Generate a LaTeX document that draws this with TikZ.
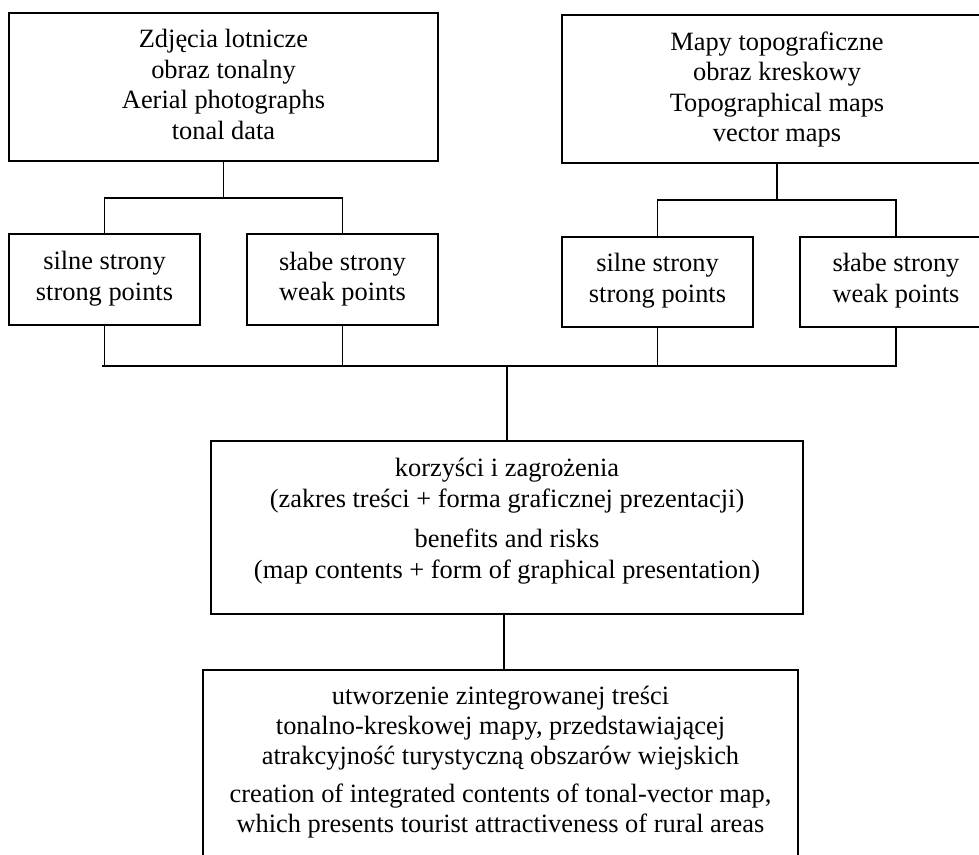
\documentclass[tikz,border=0pt]{standalone}
\usepackage{fontspec}
\setmainfont{Liberation Serif}
\begin{document}
\begin{tikzpicture}[x=1pt,y=-1pt]
\tikzset{
  box/.style={draw, line width=1.8pt, inner sep=0pt},
  thinbox/.style={draw, line width=1.2pt, inner sep=0pt},
  txt/.style={inner sep=0pt, align=center, font=\fontsize{26.4}{30.5}\selectfont},
  conn/.style={line width=1.6pt},
}
\useasboundingbox (0,0) rectangle (979,854);
\clip (0,0) rectangle (979,854);
\fill[white] (0,0) rectangle (979,854);
% top boxes
\node[thinbox, minimum width=429pt, minimum height=148pt] (A) at (223.5,87) {};
\node[txt] (At) at (223.5,84.7) {Zdjęcia lotnicze\\obraz tonalny\\Aerial photographs\\tonal data};
\node[thinbox, minimum width=430pt, minimum height=148pt] (B) at (777,89) {};
\node[txt] (Bt) at (777,89.6) {Mapy topograficzne\\obraz kreskowy\\Topographical maps\\vector maps};
% small boxes
\node[box, minimum width=191pt, minimum height=91pt] (s1) at (104.5,279.5) {};
\node[txt] (s1t) at (104.5,278.9) {silne strony\\strong points};
\node[box, minimum width=191pt, minimum height=91pt] (w1) at (342.5,279.5) {};
\node[txt] (w1t) at (342.5,278.9) {słabe strony\\weak points};
\node[box, minimum width=191pt, minimum height=90pt] (s2) at (657.5,282) {};
\node[txt] (s2t) at (657.5,280.6) {silne strony\\strong points};
\node[box, minimum width=192pt, minimum height=90pt] (w2) at (896,282) {};
\node[txt] (w2t) at (896,280.6) {słabe strony\\weak points};
% middle box
\node[box, minimum width=592pt, minimum height=173pt] (C) at (507,527.5) {};
\node[txt, font=\fontsize{26.4}{31}\selectfont] (Ct) at (507,520.9) {korzyści i zagrożenia\\(zakres treści + forma graficznej prezentacji)\\[9pt]benefits and risks\\(map contents + form of graphical presentation)};
% bottom box
\node[box, line width=2pt, minimum width=595pt, minimum height=250pt] (D) at (500.5,795) {};
\node[txt, font=\fontsize{26.4}{30}\selectfont] (Dt) at (500.5,761.9) {utworzenie zintegrowanej treści\\tonalno-kreskowej mapy, przedstawiającej\\atrakcyjność turystyczną obszarów wiejskich\\[8pt]creation of integrated contents of tonal-vector map,\\which presents tourist attractiveness of rural areas};
% connectors
\coordinate (jA) at (223.5,198);
\coordinate (jB) at (777,200);
\coordinate (barL) at (102,366);
\coordinate (jC) at (507,366);
\coordinate (cd) at (504,642);
\draw[conn] (A.south) -- (jA);
\draw[conn] (s1.north) |- (jA) -| (w1.north);
\draw[conn] (B.south) -- (jB);
\draw[conn] (s2.north) |- (jB) -| (w2.north);
\draw[conn] (s1.south) -- (s1.south |- barL);
\draw[conn] (w1.south) -- (w1.south |- barL);
\draw[conn] (s2.south) -- (s2.south |- barL);
\draw[conn] (w2.south) |- (barL);
\draw[conn] (jC) -- (C.north);
\draw[conn] (cd |- C.south) -- (cd |- D.north);
\end{tikzpicture}
\end{document}
